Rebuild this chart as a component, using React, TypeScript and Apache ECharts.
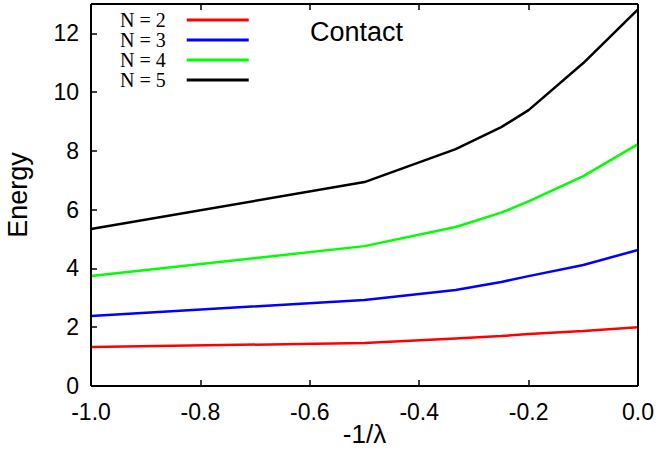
import React, { useEffect, useRef } from "react";
import * as echarts from "echarts";

const xValues = [-1, -0.5, -1 / 3, -0.25, -0.2, -0.1, 0];
const seriesNames = ["N = 2", "N = 3", "N = 4", "N = 5"];
const n2 = [1.33, 1.46, 1.62, 1.7, 1.77, 1.87, 2.0];
const n3 = [2.38, 2.93, 3.27, 3.54, 3.74, 4.12, 4.63];
const n4 = [3.74, 4.76, 5.41, 5.9, 6.28, 7.14, 8.23];
const n5 = [5.34, 6.94, 8.06, 8.81, 9.39, 10.99, 12.82];
const colors = ["#ff0000", "#0000ff", "#00ff00", "#000000"];
const xTicks = [-0.8, -0.6, -0.4, -0.2];
const yTicks = [2, 4, 6, 8, 10, 12];
const X_MIN = -1;
const X_MAX = 0;
const Y_MIN = 0;
const Y_MAX = 13;
const annotation = "Contact";

export default function App() {
  const ref = useRef<HTMLDivElement>(null);
  useEffect(() => {
    if (!ref.current) return;
    const chart = echarts.init(ref.current, null, { renderer: "svg" });
    const all = [n2, n3, n4, n5];
    const xTickLen = 0.2; // in y units (~6px)
    const yTickLen = 0.011; // in x units (~6px)
    const frame = [
      [[X_MIN, Y_MIN], [X_MAX, Y_MIN]],
      [[X_MAX, Y_MIN], [X_MAX, Y_MAX]],
      [[X_MAX, Y_MAX], [X_MIN, Y_MAX]],
      [[X_MIN, Y_MAX], [X_MIN, Y_MIN]],
    ];
    const ticks: number[][][] = [];
    xTicks.forEach((t) => {
      ticks.push([[t, Y_MIN], [t, Y_MIN + xTickLen]]);
      ticks.push([[t, Y_MAX], [t, Y_MAX - xTickLen]]);
    });
    yTicks.forEach((t) => {
      ticks.push([[X_MIN, t], [X_MIN + yTickLen, t]]);
    });
    chart.setOption({
      animation: false,
      grid: {
        left: 91,
        right: 20,
        top: 4,
        bottom: 68,
        containLabel: false,
        outerBoundsMode: "none",
      },
      legend: {
        orient: "vertical",
        left: 120,
        top: 10,
        padding: 0,
        align: "right",
        itemWidth: 62,
        itemHeight: 3,
        itemGap: 0,
        icon: "rect",
        textStyle: {
          fontFamily: "Liberation Serif",
          fontSize: 20,
          lineHeight: 19.5,
          color: "#000",
          padding: [0, 16, 0, 0],
        },
        data: seriesNames,
      },
      graphic: [
        {
          type: "text",
          left: 310,
          top: 18,
          style: { text: annotation, font: "27px 'Liberation Sans'", fill: "#000" },
        },
      ],
      xAxis: {
        type: "value",
        min: X_MIN,
        max: X_MAX,
        interval: 0.2,
        position: "bottom",
        axisLine: { show: false },
        axisTick: { show: false },
        splitLine: { show: false },
        axisLabel: {
          color: "#000",
          fontFamily: "Liberation Sans",
          fontSize: 23,
          margin: 14,
          formatter: (v: number) => v.toFixed(1),
        },
        name: "-1/\u03bb",
        nameLocation: "middle",
        nameGap: 35,
        nameMoveOverlap: false,
        nameTextStyle: { color: "#000", fontFamily: "Liberation Sans", fontSize: 26 },
      },
      yAxis: {
        type: "value",
        min: Y_MIN,
        max: Y_MAX,
        interval: 2,
        position: "left",
        axisLine: { show: false },
        axisTick: { show: false },
        splitLine: { show: false },
        axisLabel: {
          color: "#000",
          fontFamily: "Liberation Sans",
          fontSize: 23,
          margin: 12,
          showMaxLabel: false,
        },
        name: "Energy",
        nameLocation: "middle",
        nameGap: 60,
        nameMoveOverlap: false,
        nameTextStyle: { color: "#000", fontFamily: "Liberation Sans", fontSize: 27 },
      },
      series: [
        ...all.map((vals, i) => ({
          name: seriesNames[i],
          type: "line",
          showSymbol: false,
          symbol: "none",
          color: colors[i],
          lineStyle: { color: colors[i], width: 2.5 },
          data: vals.map((v, j) => [xValues[j], v]),
        })),
        {
          name: "frame",
          type: "lines",
          coordinateSystem: "cartesian2d",
          silent: true,
          clip: false,
          z: 5,
          lineStyle: { color: "#000", width: 2, opacity: 1 },
          data: frame.map((c) => ({ coords: c })),
        },
        {
          name: "ticks",
          type: "lines",
          coordinateSystem: "cartesian2d",
          silent: true,
          clip: false,
          z: 5,
          lineStyle: { color: "#000", width: 1.5, opacity: 1 },
          data: ticks.map((c) => ({ coords: c })),
        },
      ],
    });
    return () => chart.dispose();
  }, []);
  return <div ref={ref} style={{ width: 658, height: 454, position: "absolute", left: 0, top: 0, background: "#fff" }} />;
}
